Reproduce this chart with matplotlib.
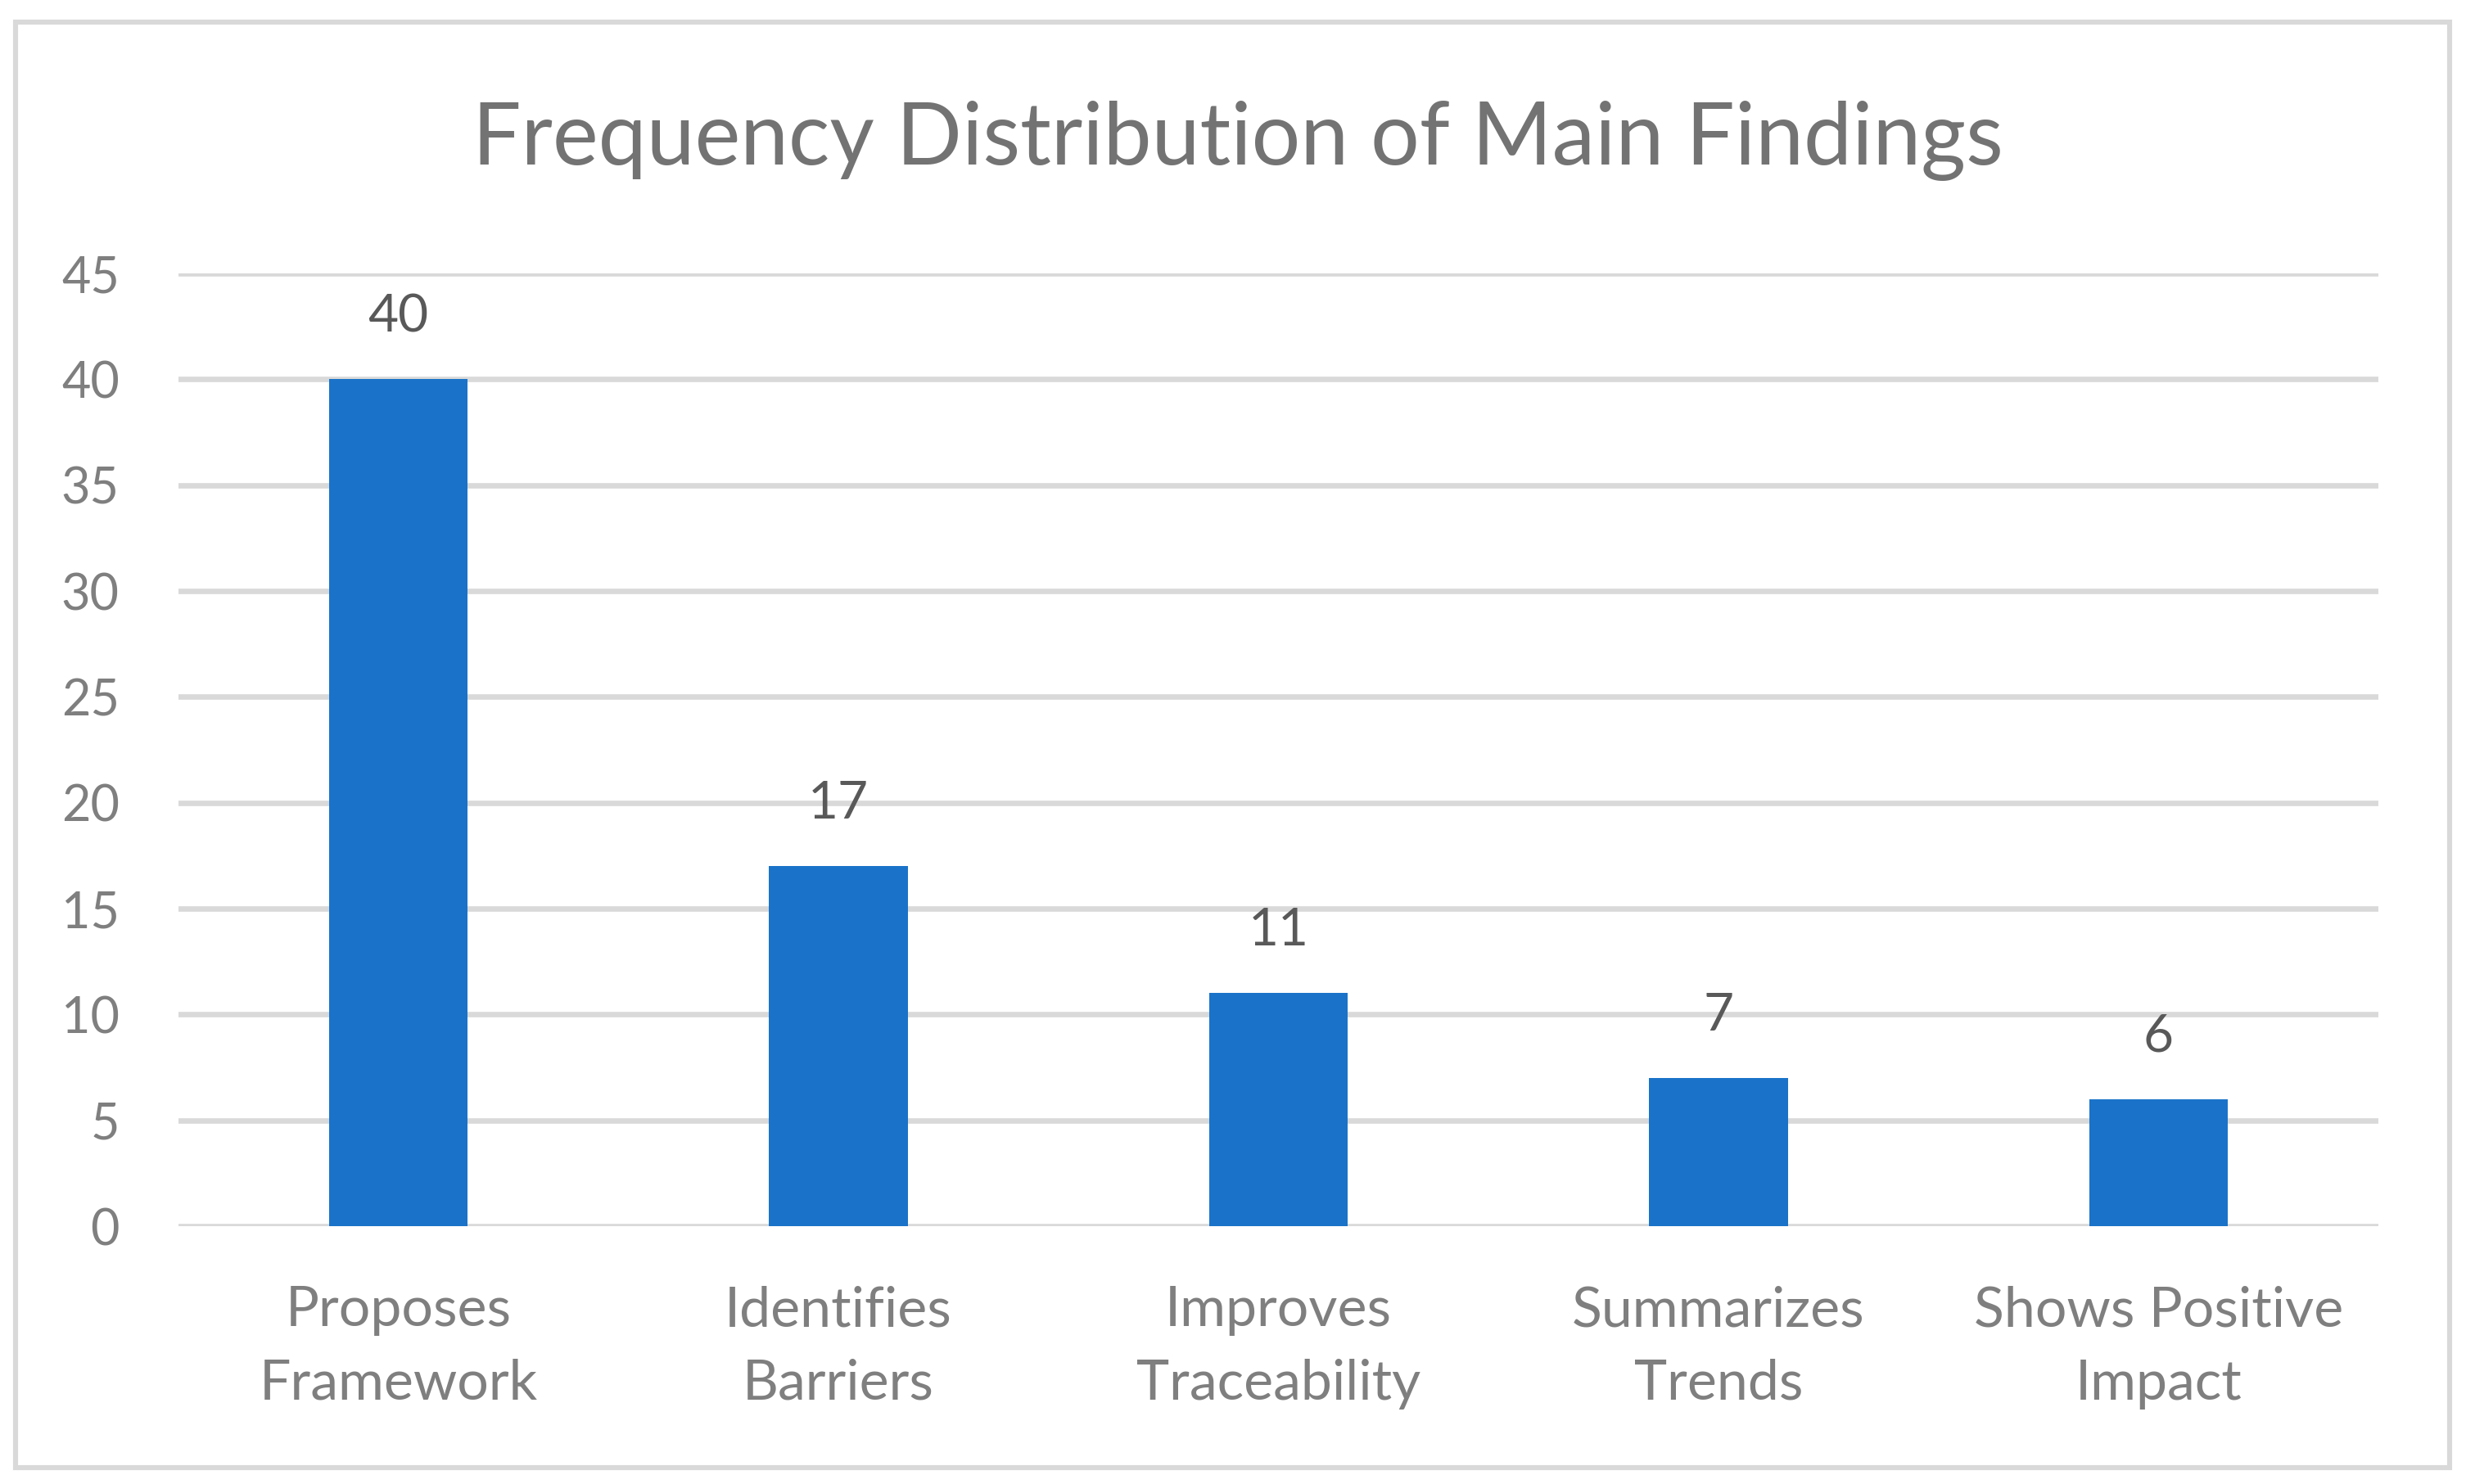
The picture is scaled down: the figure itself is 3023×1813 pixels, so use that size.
import matplotlib.pyplot as plt
from matplotlib.patches import Rectangle

categories = ["Proposes\nFramework", "Identifies\nBarriers", "Improves\nTraceability",
              "Summarizes\nTrends", "Shows Positive\nImpact"]
counts = [40, 17, 11, 7, 6]
yticks = [0, 5, 10, 15, 20, 25, 30, 35, 40, 45]

W, H, DPI = 3023, 1813, 200
plt.rcParams["font.family"] = ["Lato", "DejaVu Sans"]

fig = plt.figure(figsize=(W / DPI, H / DPI), dpi=DPI)
ax = fig.add_axes([218 / W, 1 - 1498 / H, (2905 - 218) / W, (1498 - 334) / H])

x = list(range(len(categories)))
ax.bar(x, counts, width=0.315, color="#1A73C8", zorder=3)
for xi, v in zip(x, counts):
    ax.annotate(str(v), (xi, v), xytext=(0, 17), textcoords="offset points",
                ha="center", va="bottom", fontsize=23, color="#595959")

ax.set_xlim(-0.5, len(categories) - 0.5)
ax.set_ylim(0, 45)
ax.set_yticks(yticks)
ax.set_xticks(x)
ax.set_xticklabels(categories, fontsize=24.5, color="#7F7F7F", linespacing=1.55)
ax.tick_params(axis="y", labelsize=22, labelcolor="#7F7F7F", length=0, pad=26)
ax.tick_params(axis="x", length=0, pad=26)
ax.grid(axis="y", color="#D9D9D9", lw=2.4, zorder=0)
for s in ax.spines.values():
    s.set_visible(False)

fig.text(0.5, 1 - 172 / H, "Frequency Distribution of Main Findings",
         ha="center", va="center", fontsize=38, color="#737373")

fig.patches.append(Rectangle((19 / W, 1 - 1793 / H), (2992 - 19) / W, (1793 - 27) / H,
                             transform=fig.transFigure, fill=False,
                             edgecolor="#D9D9D9", lw=2.2))

fig.savefig("out.png", dpi=DPI, facecolor="white")
